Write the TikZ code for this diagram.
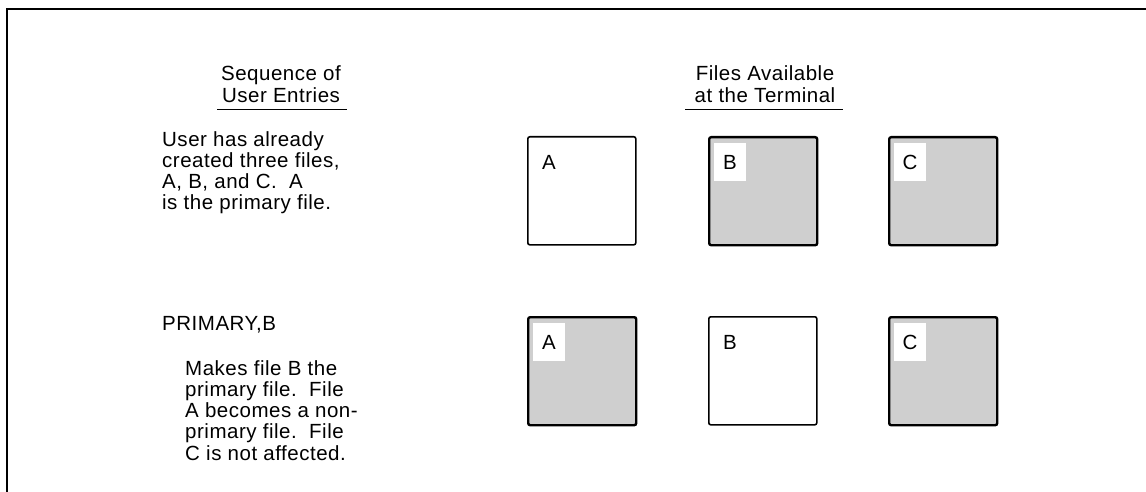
\documentclass[tikz,border=0pt]{standalone}
\usepackage{fontspec}
\setmainfont{Liberation Sans}[LetterSpace=2.5]
\usetikzlibrary{positioning}

\begin{document}
\begin{tikzpicture}[x=1pt, y=-1pt, node distance=0mm]
\tikzstyle{txt}=[inner sep=0pt, anchor=north west, align=left, font=\fontsize{20.5}{21.3}\selectfont]
\tikzstyle{head}=[inner sep=0pt, anchor=north, align=center, font=\fontsize{20.5}{22}\selectfont]
\tikzstyle{file}=[draw, line width=1.6pt, rounded corners=2pt, minimum width=108pt, minimum height=108pt, anchor=north west, inner sep=0pt]
\tikzstyle{plain}=[file, fill=white]
\tikzstyle{shaded}=[file, fill=black!19, line width=2.4pt]
\tikzstyle{tag}=[fill=white, minimum width=32pt, minimum height=38pt, inner sep=0pt, font=\fontsize{20.5}{21.3}\selectfont]
\tikzstyle{rule}=[line width=1.4pt]

\useasboundingbox (0,0) rectangle (1146,492);
\draw[line width=2pt] (1146,9) -- (7,9) -- (7,492);

% column heads
\node[head] (seqhead) at (281,65) {Sequence of\\User Entries};
\node[head] (filehead) at (765,65) {Files Available\\at the Terminal};
\draw[rule] ([shift={(-64,7)}]seqhead.south) -- ([shift={(66,7)}]seqhead.south);
\draw[rule] ([shift={(-80,7)}]filehead.south) -- ([shift={(78,7)}]filehead.south);

% first step
\node[txt] (step1) at (162,131) {User has already\\created three files,\\A, B, and C.\ \ A\\is the primary file.};
\node[plain] (a1) at (527,136) {};
\node[shaded] (b1) at (708,136) {};
\node[shaded] (c1) at (888,136) {};
\node[tag] (a1tag) at ([shift={(22,26)}]a1.north west) {A};
\node[tag] (b1tag) at ([shift={(22,26)}]b1.north west) {B};
\node[tag] (c1tag) at ([shift={(22,26)}]c1.north west) {C};

% second step
\node[txt] (cmd) at (162,316) {PRIMARY,B};
\node[txt] (step2) at (185,360) {Makes file B the\\primary file.\ \ File\\A becomes a non-\\primary file.\ \ File\\C is not affected.};
\node[shaded] (a2) at (527,316) {};
\node[plain] (b2) at (708,316) {};
\node[shaded] (c2) at (888,316) {};
\node[tag] (a2tag) at ([shift={(22,26)}]a2.north west) {A};
\node[tag] (b2tag) at ([shift={(22,26)}]b2.north west) {B};
\node[tag] (c2tag) at ([shift={(22,26)}]c2.north west) {C};
\end{tikzpicture}
\end{document}
